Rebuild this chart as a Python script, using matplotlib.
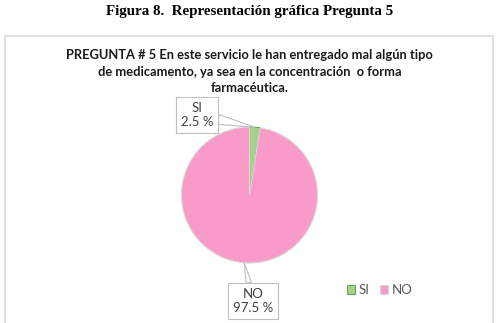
import numpy as np
import matplotlib
matplotlib.use('Agg')
import matplotlib.pyplot as plt
from matplotlib.patches import Rectangle, Patch

LABELS = ['SI', 'NO']
VALUES = [2.5, 97.5]
COLORS = ['#a9d18e', '#f99bc8']
EDGES = ['#6aa84f', '#d9d9d9']

CAPTION = 'Figura 8.  Representación gráfica Pregunta 5'
TITLE = ('PREGUNTA # 5 En este servicio le han entregado mal algún tipo\n'
         'de medicamento, ya sea en la concentración  o forma\n'
         'farmacéutica.')

W, H = 499, 323
fig = plt.figure(figsize=(W / 100, H / 100), dpi=100)
fig.patch.set_facecolor('white')

# caption above the chart frame
fig.text(0.5, 1 - 12 / H, CAPTION, ha='center', va='center', fontsize=10.8,
         fontweight='bold', family='Liberation Serif')

# chart frame
fig.patches.append(Rectangle((5 / W, -0.05), 488 / W, 1.05 - 36 / H, transform=fig.transFigure,
                             fill=False, edgecolor='#d9d9d9', linewidth=1.2))

fig.text(0.5, 1 - 71.5 / H, TITLE, ha='center', va='center', fontsize=9.3, fontweight='bold',
         family='Lato', linespacing=1.42, color='#1a1a1a')

cx, cy, r = 249.5, 195, 68
ax = fig.add_axes([(cx - r) / W, (H - cy - r) / H, 2 * r / W, 2 * r / H])
wedges, _ = ax.pie(VALUES, colors=COLORS, startangle=90, counterclock=False, radius=1,
                   wedgeprops={'linewidth': 0.8})
for w, ec in zip(wedges, EDGES):
    w.set_edgecolor(ec)
ax.set_xlim(-1, 1)
ax.set_ylim(-1, 1)
ax.set_aspect('auto')
ax.axis('off')

# data labels with callout boxes
total = sum(VALUES)
text_pos = [(197 / W, 1 - 115 / H), (253 / W, 1 - 301 / H)]
tails = [0.75, 0.4]
angle = 90
for lab, val, tp, tw in zip(LABELS, VALUES, text_pos, tails):
    mid = angle - 360 * val / total / 2
    angle -= 360 * val / total
    ex, ey = np.cos(np.radians(mid)), np.sin(np.radians(mid))
    ax.annotate('{}\n{} %'.format(lab, val), xy=(ex, ey), xycoords='data',
                xytext=tp, textcoords='figure fraction', ha='center', va='center',
                fontsize=9.5, family='Lato', color='#404040',
                linespacing=1.25,
                bbox=dict(boxstyle='square,pad=0.35', fc='white', ec='#bfbfbf', lw=0.8),
                arrowprops=dict(arrowstyle='wedge,tail_width={},shrink_factor=0.5'.format(tw),
                                fc='white', ec='#bfbfbf', lw=0.8, shrinkA=0, shrinkB=0),
                annotation_clip=False)

handles = [Patch(facecolor=c, edgecolor=e, linewidth=0.8) for c, e in zip(COLORS, EDGES)]
fig.legend(handles, LABELS, loc='center', bbox_to_anchor=(380 / W, 1 - 290 / H), ncol=2,
           frameon=False, handlelength=0.6, handleheight=0.6, handletextpad=0.3,
           columnspacing=0.8, prop={'family': 'Lato', 'size': 9.5}, labelcolor='#595959')

fig.savefig('out.png', dpi=100, facecolor='white')
